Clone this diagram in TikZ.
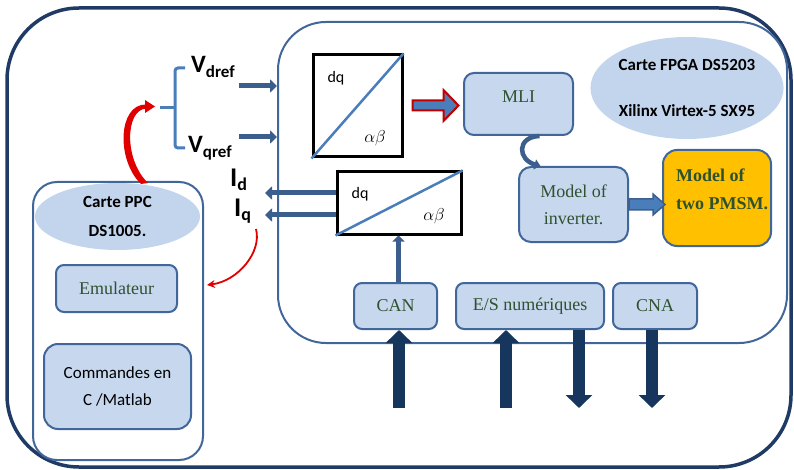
\documentclass[tikz,border=0pt]{standalone}
\usepackage{fontspec}
\setmainfont{Liberation Serif}
\newfontfamily\calib{Carlito}
\usetikzlibrary{arrows.meta,shapes.geometric,calc}
\definecolor{navy}{HTML}{1F3A64}
\definecolor{mblue}{HTML}{41669A}
\definecolor{lblue}{HTML}{C6D7EE}
\definecolor{ellfill}{HTML}{C3D5ED}
\definecolor{tgreen}{HTML}{2E5230}
\definecolor{diag}{HTML}{4A7EBB}
\definecolor{arr}{HTML}{3B5E8C}
\definecolor{dnavy}{HTML}{17365D}
\definecolor{gold}{HTML}{FFC000}
\definecolor{redc}{HTML}{E00000}
\definecolor{darkred}{HTML}{C00000}
\begin{document}
\begin{tikzpicture}[x=1pt,y=-1pt,
 box/.style={draw=mblue, fill=lblue, line width=2pt, rounded corners=8pt, inner sep=0pt, align=center, text=tgreen, font=\fontsize{18}{27}\selectfont},
 dqbox/.style={draw=black, line width=3pt, fill=white, inner sep=0pt},
 thinarr/.style={arr, line width=5pt, -{Triangle[length=7pt,width=13pt]}},
 bigarr/.style={dnavy, line width=12pt, -{Triangle[length=13pt,width=26pt]}},
 ell/.style={ellipse, fill=ellfill, inner sep=0pt, align=center, font=\calib\bfseries\fontsize{17}{29}\selectfont},
 lab/.style={font=\calib\bfseries, inner sep=0pt, anchor=base west},
 dqt/.style={font=\calib\fontsize{16}{16}\selectfont, inner sep=0pt},
 abt/.style={font=\fontsize{17}{17}\selectfont, inner sep=0pt},
]
\useasboundingbox (0,0) rectangle (794,470);
% containers
\node[draw=navy, line width=3.5pt, rounded corners=72pt, minimum width=784pt, minimum height=459pt] (frame) at (399,237.5) {};
\node[draw=mblue, line width=2pt, rounded corners=48pt, minimum width=509pt, minimum height=321pt] (fpga) at (532.5,182.5) {};
\node[ell, minimum width=165pt, minimum height=67pt] (ppc) at (117.5,216.5) {Carte PPC\\DS1005.};
\node[draw=mblue, line width=2pt, rounded corners=24pt, minimum width=170pt, minimum height=278pt] (ppcbox) at (118,321) {};
\node[ell, font=\calib\bfseries\fontsize{17}{46}\selectfont, minimum width=188pt, minimum height=102pt] (fpgaell) at (687,88) {Carte FPGA DS5203\\Xilinx Virtex-5 SX95};
% PPC boxes
\node[box, minimum width=121pt, minimum height=47pt] (emu) at (116.5,288.5) {Emulateur};
\node[box, text=black, font=\calib\fontsize{17}{27}\selectfont, rounded corners=14pt, minimum width=147pt, minimum height=85pt] (cmd) at (117.5,386.5) {Commandes en\\C /Matlab};
% dq boxes
\node[dqbox, minimum width=89pt, minimum height=102pt] (dq1) at (357.5,106) {};
\draw[diag, line width=2.5pt] (dq1.south west) -- (dq1.north east);
\node[dqt] (dq1a) at (336,78) {dq};
\node[abt] (dq1b) at (375,138) {$\alpha\beta$};
\node[dqbox, minimum width=124pt, minimum height=62pt] (dq2) at (399,203) {};
\draw[diag, line width=2.5pt] (dq2.south west) -- (dq2.north east);
\node[dqt] (dq2a) at (360,194) {dq};
\node[abt] (dq2b) at (434,216) {$\alpha\beta$};
% FPGA boxes
\node[box, rounded corners=10pt, minimum width=109pt, minimum height=62pt] (mli) at (518.5,104) {};
\node[text=tgreen, font=\fontsize{18}{18}\selectfont, inner sep=0pt] (mlit) at (518.5,97) {MLI};
\node[box, rounded corners=12pt, minimum width=109pt, minimum height=75pt] (inv) at (573.5,204.5) {Model of\\inverter.};
\node[box, fill=gold, rounded corners=14pt, minimum width=108pt, minimum height=96pt] (pmsm) at (717,198) {};
\node[anchor=west, align=left, text=tgreen, font=\bfseries\fontsize{18}{28}\selectfont, inner sep=0pt] (pmsmt) at (676,189) {Model of\\two PMSM.};
\node[box, minimum width=83pt, minimum height=46pt] (can) at (395.5,306) {CAN};
\node[box, minimum width=148pt, minimum height=46pt] (es) at (530,306) {E/S numériques};
\node[box, minimum width=84pt, minimum height=46pt] (cna) at (655,306) {CNA};
% labels
\node[lab] (vd) at (191,73) {{\fontsize{25}{25}\selectfont V}\raisebox{-5pt}{\fontsize{17}{17}\selectfont dref}};
\node[lab] (vq) at (188,153) {{\fontsize{25}{25}\selectfont V}\raisebox{-5pt}{\fontsize{17}{17}\selectfont qref}};
\node[lab] (id) at (230,187) {{\fontsize{27}{27}\selectfont I}\raisebox{-4pt}{\fontsize{18}{18}\selectfont d}};
\node[lab] (iq) at (234,217) {{\fontsize{27}{27}\selectfont I}\raisebox{-4pt}{\fontsize{18}{18}\selectfont q}};
% brace
\coordinate (br) at (160,108);
\draw[diag, line width=3pt, rounded corners=3pt] (185,68) -- (175,68) -- (175,148) -- (185,148);
\draw[diag, line width=3pt] (175,108) -- (br);
% arrows
\coordinate (vdA) at (239,86);
\coordinate (vqA) at (239,137);
\draw[thinarr] (vdA) -- (vdA -| fpga.west);
\draw[thinarr] (vqA) -- (vqA -| fpga.west);
\coordinate (idA) at (265,193);
\coordinate (iqA) at (265,215);
\draw[thinarr] (dq2.west |- idA) -- (idA);
\draw[thinarr] (dq2.west |- iqA) -- (iqA);
\draw[thinarr, -{Triangle[length=6pt,width=12pt]}] ([xshift=3pt]can.north) -- ([xshift=3pt]can.north |- dq2.south);
% red hollow arrow
\coordinate (ra) at ($(dq1.east)+(9,-0.5)$);
\draw[darkred, line width=2pt, fill=diag, line join=miter] ($(ra)+(0,-5)$) -- ++(31,0) -- ++(0,-10.5) -- ++(15,15.5) -- ++(-15,15.5) -- ++(0,-10.5) -- ++(-31,0) -- cycle;
% inverter -> pmsm block arrow
\coordinate (ia) at (inv.east);
\draw[arr, line width=1.5pt, fill=diag, line join=miter] ($(ia)+(0,-5.5)$) -- ++(24,0) -- ++(0,-5) -- ++(12,10.5) -- ++(-12,10.5) -- ++(0,-5) -- ++(-24,0) -- cycle;
% MLI -> inverter curl
\draw[arr, line width=4.5pt, -{Triangle[length=6pt,width=10pt]}] ([xshift=21pt]mli.south) .. controls (516,137) and (518,160) .. ([xshift=-33pt]inv.north);
% red tapered curved arrow (PPC -> references)
\fill[redc] (141,184) .. controls (116,160) and (118,104) .. (146,104.5) -- (146,108.5) .. controls (125,110) and (124,160) .. (148,183) -- cycle;
\fill[redc] (145,100) -- (155,106.5) -- (145,113) -- cycle;
% thin red curve (Iq -> emulateur)
\coordinate (r2s) at (256,229);
\coordinate (r2e) at (207,285);
\draw[redc, line width=1.8pt, -{Stealth[length=8pt,width=8pt]}] (r2s) .. controls (262,252) and (238,281) .. (r2e);
% big bottom arrows
\coordinate (b1) at (399,408);
\coordinate (b2) at (506,408);
\coordinate (b3) at (579,408);
\coordinate (b4) at (652,408);
\draw[bigarr] (b1) -- (b1 |- can.south);
\draw[bigarr] (b2) -- (b2 |- es.south);
\draw[bigarr] (b3 |- es.south) -- (b3);
\draw[bigarr] (b4 |- cna.south) -- (b4);
\end{tikzpicture}
\end{document}
